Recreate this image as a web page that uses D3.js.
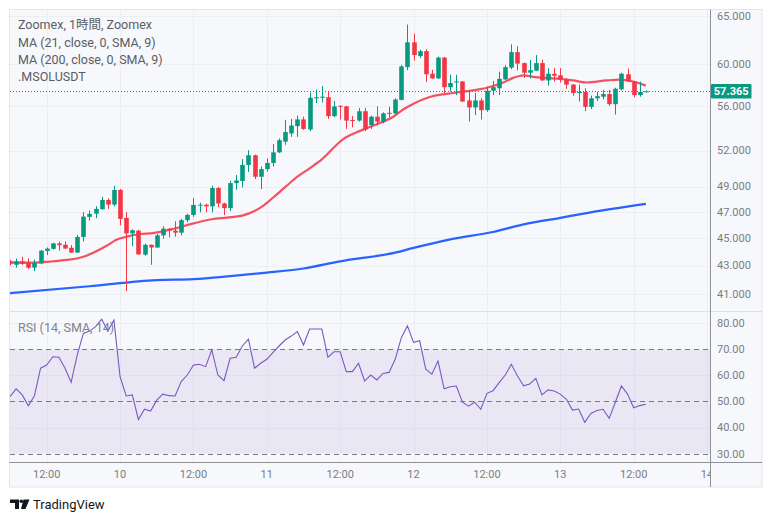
<!DOCTYPE html>
<html><head><meta charset="utf-8">
<script src="https://cdn.jsdelivr.net/npm/d3@7"></script>
<style>body{margin:0;background:#fff;} svg{display:block;}</style>
</head><body><svg id="c" width="772" height="523"></svg>
<script>
// ---------- DATA ----------
const firstHour = 6;           // 9th 06:00, one candle per hour
const opens  = [43.30,43.05,43.30,43.20,42.85,43.15,44.05,44.20,44.60,44.50,44.28,43.93,45.08,46.60,46.85,47.20,47.92,47.56,48.72,46.52,45.35,45.55,43.78,44.50,44.30,45.20,45.70,45.55,45.40,46.35,46.75,47.48,47.55,47.42,48.88,47.65,47.28,49.28,49.45,50.78,51.60,49.80,50.43,50.95,51.85,52.78,53.50,54.15,54.75,53.85,56.70,56.75,56.80,55.05,56.00,55.95,54.70,54.65,55.50,54.25,55.00,54.50,55.30,55.30,56.55,59.70,62.20,60.80,61.30,59.05,58.60,60.65,57.75,58.20,58.30,56.50,55.85,56.50,55.60,57.42,57.65,58.50,59.65,61.20,60.10,59.15,59.35,60.10,58.40,59.05,58.90,58.50,58.00,57.20,57.30,55.90,56.70,56.85,57.10,56.15,57.55,59.00,58.30,57.00,57.30];
const highs  = [43.40,43.50,43.62,43.50,43.43,44.12,44.30,44.65,44.73,44.76,44.47,45.25,46.97,47.10,47.43,48.18,48.05,49.06,48.80,46.97,45.65,45.62,44.58,44.52,45.30,45.88,45.75,46.27,46.43,46.85,48.08,47.70,47.62,49.06,48.96,47.70,49.47,49.94,51.27,52.03,51.65,50.65,51.33,52.57,53.05,54.72,54.80,55.10,55.00,57.25,57.52,57.85,57.35,56.45,56.05,56.00,55.05,55.80,55.80,55.10,55.95,55.40,55.90,56.70,59.90,64.05,63.10,61.45,61.50,59.44,60.75,60.70,58.95,58.95,58.35,57.50,57.20,56.70,57.80,58.35,59.25,59.90,62.00,61.80,60.15,60.43,60.90,60.43,59.60,59.60,59.60,58.60,58.05,58.00,57.65,56.95,57.30,57.50,57.50,57.70,59.15,59.55,58.35,58.30,57.45];
const lows   = [43.00,42.85,43.05,42.75,42.60,43.10,43.75,44.15,44.07,44.20,43.90,43.90,44.75,46.32,46.50,47.15,47.22,47.40,45.95,41.22,44.40,43.78,43.70,43.05,44.28,44.95,45.05,45.10,45.20,46.20,46.60,46.95,46.95,46.95,47.35,46.73,47.05,48.75,48.93,50.20,49.61,48.80,50.23,50.65,51.80,52.50,53.20,53.20,53.80,53.70,56.25,56.30,54.80,54.95,54.75,53.90,54.05,54.55,53.70,53.90,54.20,54.40,54.95,55.20,56.50,59.40,60.35,60.60,58.25,58.55,58.55,57.20,57.35,57.00,56.35,54.57,55.15,54.75,55.45,57.00,57.00,58.40,59.50,59.38,58.65,58.60,59.30,58.35,57.90,58.30,58.20,57.60,56.95,56.40,55.50,55.70,56.45,56.60,56.00,55.20,57.45,58.25,56.80,56.85,57.25];
const closes = [43.15,43.30,43.12,42.85,43.20,44.07,44.22,44.60,44.47,44.22,43.93,45.08,46.62,46.83,47.22,47.92,47.56,48.72,46.45,45.35,45.58,43.80,44.50,44.30,45.20,45.70,45.55,45.40,46.35,46.75,47.53,47.55,47.42,48.88,47.65,47.28,49.28,49.50,50.78,51.60,49.80,50.43,50.95,51.85,52.90,53.62,54.20,54.75,53.90,56.75,56.80,56.85,55.05,55.95,55.92,54.65,54.65,55.50,53.85,55.00,54.55,55.30,55.35,56.58,59.77,62.20,60.90,61.30,59.00,58.60,60.65,57.75,58.15,58.30,56.40,55.85,56.50,55.60,57.42,57.75,58.55,59.70,61.20,60.05,59.15,59.40,60.10,58.40,59.05,58.85,58.50,58.00,57.20,57.30,55.90,56.70,56.90,57.10,56.15,57.60,59.05,58.30,57.00,57.30,57.365];
const rsiValues = [51.8,54.8,52.5,48.3,52.2,62.7,63.9,67.1,66.9,62.7,57.3,67.8,76.0,76.9,78.6,81.4,76.9,81.1,59.5,52.1,52.5,43.1,47.0,46.3,50.5,52.8,52.2,52.1,57.6,60.1,63.9,64.2,63.3,69.7,60.1,57.9,66.5,66.9,71.2,73.8,62.7,64.6,66.1,68.7,71.2,73.5,75.0,76.7,71.6,77.7,77.7,77.7,66.9,69.0,69.0,61.4,61.4,64.6,57.8,60.1,58.2,60.7,61.1,66.1,74.4,78.9,72.6,73.2,62.3,60.4,65.5,54.8,55.6,55.9,49.7,48.2,49.7,47.0,53.1,54.1,57.2,60.1,64.2,59.7,56.0,56.7,58.8,52.5,54.4,54.0,52.8,50.8,46.7,47.1,42.0,45.4,46.5,47.0,43.5,49.7,55.9,52.8,47.6,48.4,48.9];
const ma21Hours  = [6,10,12.5,15.3,16.9,18.5,20.2,21.8,23.4,25.1,27.3,29.4,31,33,36,39,41.5,44,46,47.5,49,51,53,55,57,60.5,62.7,64.9,67,68.7,70.3,72,74.8,76,78.5,81.2,84,86.7,88.3,90,91.6,93.3,96,98.1,100.3,103.6,105.7,107.9,110];
const ma21Values = [43.2,43.2,43.28,43.4,43.5,43.7,44.04,44.43,44.87,45.1,45.3,45.37,45.5,45.72,46.1,46.42,46.55,46.7,47.05,47.5,48.1,48.95,49.8,50.5,51.25,53.0,53.6,54.1,54.55,55.0,55.66,56.2,56.85,57.0,57.2,57.4,57.7,58.2,58.65,58.9,58.75,58.65,58.55,58.4,58.2,58.4,58.47,58.3,57.9];
const ma200Hours  = [6,19,30,36,42,48,54,60,69,72,78,85,90,96,101,110];
const ma200Values = [41.08,41.55,41.97,42.04,42.25,42.5,42.79,43.3,43.93,44.27,44.9,45.45,46.03,46.53,46.95,47.61];
const lastPrice = 57.365;
const priceTicks = [65,60,56,52,49,47,45,43,41];
const rsiTicks = [80,70,60,50,40,30];
const timeTickHours  = [12,24,36,48,60,72,84,96,108,120];
const timeTickLabels = ["12:00","10","12:00","11","12:00","12","12:00","13","12:00","14"];
const legendLines = ["Zoomex, 1時間, Zoomex","MA (21, close, 0, SMA, 9)","MA (200, close, 0, SMA, 9)",".MSOLUSDT"];

// ---------- LAYOUT ----------
const L = 10, R = 710.5, PR = 762, T = 9.5, MB = 311.5, RB = 462, AB = 487;
const UP = "#089981", DN = "#F23645", GRID = "#ECEEF2", TXT = "#7a7d86";
const FONT = "Roboto, 'Noto Sans', 'Noto Sans CJK JP', sans-serif";

const hours = d3.range(firstHour, firstHour + closes.length);
const x = d3.scaleLinear().domain([6, 120.6]).range([10, 710.7]);
const y = d3.scaleLog().domain([41, 65]).range([294.3, 15.7]);
const yr = d3.scaleLinear().domain([30, 80]).range([453.7, 323]);

const svg = d3.select("#c").style("font-family", FONT);
const defs = svg.append("defs");
defs.append("clipPath").attr("id","cm").append("rect").attr("x",L).attr("y",T).attr("width",R-L).attr("height",MB-T);
defs.append("clipPath").attr("id","cr").append("rect").attr("x",L).attr("y",MB).attr("width",R-L).attr("height",RB-MB);
defs.append("clipPath").attr("id","ct").append("rect").attr("x",L).attr("y",RB).attr("width",R-L).attr("height",AB-RB);

svg.append("rect").attr("x",9.5).attr("y",9.5).attr("width",PR-9.5).attr("height",AB-9.5)
  .attr("fill","#F7F8FB").attr("stroke","#E3E6EC");

// grid
const g = svg.append("g").attr("stroke",GRID).attr("stroke-width",1);
priceTicks.forEach(p => g.append("line").attr("x1",L).attr("x2",R).attr("y1",Math.round(y(p))+0.5).attr("y2",Math.round(y(p))+0.5));
[80,60,40].forEach(v => g.append("line").attr("x1",L).attr("x2",R).attr("y1",Math.round(yr(v))+0.5).attr("y2",Math.round(yr(v))+0.5));
timeTickHours.forEach(h => { const xx = Math.round(x(h))+0.5; if (xx < R) g.append("line").attr("x1",xx).attr("x2",xx).attr("y1",T).attr("y2",RB); });

// main pane
const main = svg.append("g").attr("clip-path","url(#cm)");
const line200 = d3.line().x((d,i)=>x(ma200Hours[i])).y(d=>y(d)).curve(d3.curveMonotoneX);
main.append("path").attr("d", line200(ma200Values)).attr("fill","none").attr("stroke","#2962FF").attr("stroke-width",2.2);
const line21 = d3.line().x((d,i)=>x(ma21Hours[i])).y(d=>y(d)).curve(d3.curveMonotoneX);
main.append("path").attr("d", line21(ma21Values)).attr("fill","none").attr("stroke","#F23645").attr("stroke-opacity",0.85).attr("stroke-width",2.2);

const cg = main.append("g");
hours.forEach((h,i) => {
  const o = opens[i], c = closes[i], col = c >= o ? UP : DN;
  const cx = Math.round(x(h)) + 0.5;
  cg.append("line").attr("x1",cx).attr("x2",cx).attr("y1",y(highs[i])).attr("y2",y(lows[i])).attr("stroke",col).attr("stroke-width",1);
  const top = y(Math.max(o,c)), bot = y(Math.min(o,c));
  cg.append("rect").attr("x",cx-2.3).attr("width",4.6).attr("y",top).attr("height",Math.max(1,bot-top)).attr("fill",col);
});

// last price line
const ly = Math.round(y(lastPrice)) + 0.5;
svg.append("line").attr("x1",L).attr("x2",R).attr("y1",ly).attr("y2",ly).attr("stroke",UP).attr("stroke-width",1).attr("stroke-dasharray","1,2");

// RSI pane
const rsiG = svg.append("g").attr("clip-path","url(#cr)");
rsiG.append("rect").attr("x",L).attr("width",R-L).attr("y",yr(70)).attr("height",yr(30)-yr(70)).attr("fill","rgba(126,87,194,0.1)");
[70,50,30].forEach(v => rsiG.append("line").attr("x1",L).attr("x2",R).attr("y1",Math.round(yr(v))+0.5).attr("y2",Math.round(yr(v))+0.5)
  .attr("stroke","#787B86").attr("stroke-dasharray","5,4"));
const rsiLine = d3.line().x((d,i)=>x(hours[i])).y(d=>yr(d));
rsiG.append("path").attr("d", rsiLine(rsiValues)).attr("fill","none").attr("stroke","#7E57C2").attr("stroke-width",1.1);

// separators
svg.append("line").attr("x1",9.5).attr("x2",PR).attr("y1",MB).attr("y2",MB).attr("stroke","#DDE0E6");
svg.append("line").attr("x1",9.5).attr("x2",PR).attr("y1",RB+0.5).attr("y2",RB+0.5).attr("stroke","#8E9199");
svg.append("line").attr("x1",R).attr("x2",R).attr("y1",9.5).attr("y2",AB).attr("stroke","#8E9199");

// price axis labels
const pa = svg.append("g").attr("font-size","11px").attr("fill",TXT);
priceTicks.forEach(p => pa.append("text").attr("x",717).attr("y",y(p)).attr("dy","0.35em").text(d3.format(".3f")(p)));
rsiTicks.forEach(v => pa.append("text").attr("x",717).attr("y",yr(v)).attr("dy","0.35em").text(d3.format(".2f")(v)));
svg.append("rect").attr("x",R+0.5).attr("y",y(lastPrice)-7.3).attr("width",40.5).attr("height",14.6).attr("fill",UP).attr("rx",1);
svg.append("text").attr("x",R+20.7).attr("y",y(lastPrice)).attr("dy","0.36em").attr("text-anchor","middle")
  .attr("font-size","11px").attr("font-weight","bold").attr("fill","#fff").text(d3.format(".3f")(lastPrice));

// time axis labels
const ta = svg.append("g").attr("clip-path","url(#ct)").attr("font-size","11px").attr("fill",TXT).attr("text-anchor","middle");
timeTickHours.forEach((h,i) => ta.append("text").attr("x",x(h)).attr("y",474.5).attr("dy","0.35em").text(timeTickLabels[i]));

// legends
const lg = svg.append("g").attr("font-size","12.5px").attr("fill","#5a5d66");
legendLines.forEach((t,i) => lg.append("text").attr("x",18).attr("y",[25,42.3,59.6,76.9][i]).attr("dy","0.35em").text(t));
svg.append("text").attr("x",18).attr("y",327.3).attr("dy","0.35em").attr("font-size","12.5px").attr("fill","#80838c").text("RSI (14, SMA, 14)");

// TradingView mark
const lgo = svg.append("g").attr("fill","#131722");
lgo.append("path").attr("d","M10,499.5 H19 V509 H15 V503 H10 Z");
lgo.append("circle").attr("cx",21.3).attr("cy",501.3).attr("r",1.8);
lgo.append("path").attr("d","M23.5,499.5 H29.5 L25.5,509 H21 Z");
svg.append("text").attr("x",33).attr("y",504.5).attr("dy","0.35em").attr("font-size","13px").attr("fill","#131722").text("TradingView");
</script>
</body></html>
